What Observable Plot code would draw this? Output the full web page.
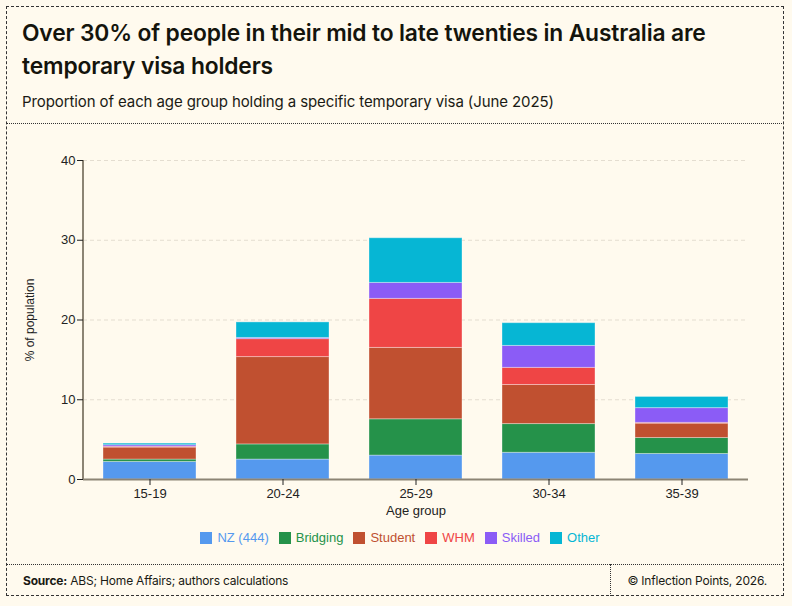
<!DOCTYPE html>
<html>
<head>
<meta charset="utf-8">
<script src="https://cdn.jsdelivr.net/npm/d3@7"></script>
<script src="https://cdn.jsdelivr.net/npm/@observablehq/plot@0.6"></script>
<style>
  html, body { margin: 0; padding: 0; background: #fffaee; }
  body { width: 792px; height: 606px; position: relative; overflow: hidden; font-family: Inter, "Noto Sans", sans-serif; color: #1a1a14; }
  .frame { position: absolute; left: 6px; top: 6px; width: 778px; height: 590px; border: 1px dashed #333; box-sizing: border-box; }
  .title { position: absolute; left: 22px; top: 16px; width: 720px; font-size: 22.8px; font-weight: 600; line-height: 33px; letter-spacing: -0.15px; color: #14140c; }
  .subtitle { position: absolute; left: 22px; top: 92px; font-size: 15px; font-weight: 400; letter-spacing: -0.1px; }
  .hsep { position: absolute; left: 7px; width: 777px; height: 0; border-top: 1px dotted #333; }
  .vsep { position: absolute; top: 564px; left: 610px; width: 0; height: 32px; border-left: 1px dotted #333; }
  #chart { position: absolute; left: 0; top: 124px; }
  .legend { position: absolute; left: 0; width: 800px; top: 530px; display: flex; justify-content: center; gap: 10px; font-family: "Liberation Sans", Arial, sans-serif; font-size: 13px; }
  .legend span.item { display: flex; align-items: center; gap: 5px; }
  .legend span.sw { width: 12px; height: 12px; display: inline-block; }
  .footer { position: absolute; top: 573px; font-size: 12px; letter-spacing: -0.2px; }
</style>
</head>
<body>
<div class="frame"></div>
<div class="title">Over 30% of people in their mid to late twenties in Australia are temporary visa holders</div>
<div class="subtitle">Proportion of each age group holding a specific temporary visa (June 2025)</div>
<div class="hsep" style="top:123px"></div>
<div id="chart"></div>
<div class="legend" id="legend"></div>
<div class="hsep" style="top:564px"></div>
<div class="vsep"></div>
<div class="footer" style="left:23px"><b>Source:</b> ABS; Home Affairs; authors calculations</div>
<div class="footer" style="right:25px">© Inflection Points, 2026.</div>
<script>
const ageGroups = ["15-19", "20-24", "25-29", "30-34", "35-39"];
const visaTypes = ["NZ (444)", "Bridging", "Student", "WHM", "Skilled", "Other"];
const typeColors = ["#5599ee", "#25924a", "#c05030", "#ef4545", "#8b5cf6", "#06b6d4"];
const nzValues       = [2.2, 2.5, 3.0, 3.35, 3.2];
const bridgingValues = [0.3, 1.9, 4.55, 3.6, 2.0];
const studentValues  = [1.5, 10.95, 8.95, 4.9, 1.8];
const whmValues      = [0.1, 2.25, 6.15, 2.15, 0.1];
const skilledValues  = [0.2, 0.15, 2.0, 2.75, 1.85];
const otherValues    = [0.2, 1.95, 5.6, 2.85, 1.4];
const yTicks = [0, 10, 20, 30, 40];

const series = [nzValues, bridgingValues, studentValues, whmValues, skilledValues, otherValues];
const data = [];
visaTypes.forEach((t, i) => ageGroups.forEach((a, j) => data.push({age: a, type: t, value: series[i][j]})));

const yAxisLine = (index, scales, values, dims) => {
  const g = d3.create("svg:g");
  const x0 = dims.marginLeft;
  g.append("line")
    .attr("x1", x0).attr("x2", x0)
    .attr("y1", scales.y(40)).attr("y2", scales.y(0))
    .attr("stroke", "#8c8474").attr("stroke-width", 2);
  return g.node();
};

const chart = Plot.plot({
  width: 792,
  height: 440,
  marginLeft: 83,
  marginRight: 44,
  marginTop: 36,
  marginBottom: 85,
  style: {background: "transparent", fontFamily: "'Liberation Sans', Arial, sans-serif", fontSize: "13px", color: "#222"},
  x: {domain: ageGroups, paddingInner: 0.3, paddingOuter: 0.15, label: null},
  y: {domain: [0, 40], label: null},
  color: {domain: visaTypes, range: typeColors},
  marks: [
    Plot.gridY(yTicks.slice(1), {stroke: "#e4ddd0", strokeOpacity: 1, strokeDasharray: "4,3"}),
    Plot.barY(data, {x: "age", y: "value", fill: "type", order: visaTypes, stroke: "#ffffff", strokeOpacity: 0.35, strokeWidth: 1}),
    Plot.ruleY([0], {stroke: "#8c8474", strokeWidth: 2}),
    yAxisLine,
    Plot.axisY({ticks: yTicks, tickSize: 6, tickPadding: 2, label: null, stroke: "#222"}),
    Plot.axisX({tickSize: 6, tickPadding: 3, label: null, stroke: "#222"}),
    Plot.text(["% of population"], {frameAnchor: "left", textAnchor: "middle", lineAnchor: "middle", rotate: -90, dx: -53, fontSize: 12, fill: "#222"}),
    Plot.text(["Age group"], {frameAnchor: "bottom", textAnchor: "middle", lineAnchor: "middle", dy: 31, fontSize: 13, fill: "#222"})
  ]
});
document.getElementById("chart").appendChild(chart);

const legend = document.getElementById("legend");
visaTypes.forEach((t, i) => {
  const item = document.createElement("span");
  item.className = "item";
  item.innerHTML = `<span class="sw" style="background:${typeColors[i]}"></span><span style="color:${typeColors[i]}">${t}</span>`;
  legend.appendChild(item);
});
</script>
</body>
</html>
